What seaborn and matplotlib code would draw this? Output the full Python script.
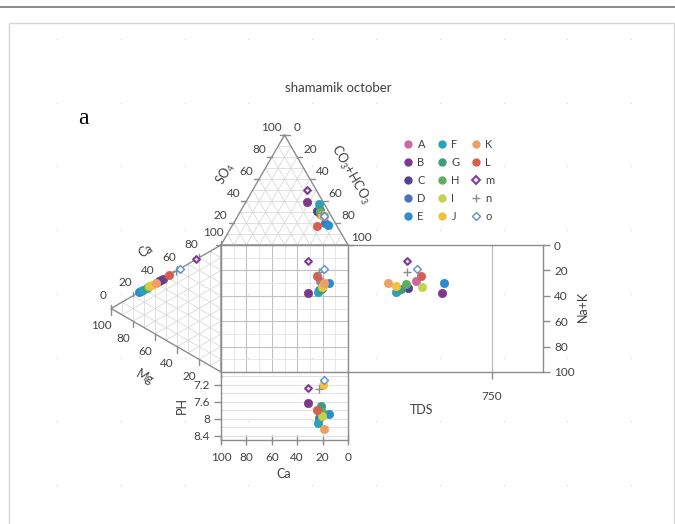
import numpy as np
import pandas as pd
import matplotlib
matplotlib.use("Agg")
import matplotlib.pyplot as plt
from matplotlib.lines import Line2D
from matplotlib.patches import Rectangle
import seaborn as sns

sns.set_theme(style="white")
plt.rcParams["font.family"] = ["Lato", "DejaVu Sans"]
plt.rcParams["mathtext.fontset"] = "custom"
plt.rcParams["mathtext.rm"] = "Lato"
plt.rcParams["mathtext.it"] = "Lato:italic"
plt.rcParams["mathtext.bf"] = "Lato:bold"

# ---------------------------------------------------------------- data
samples = ["A", "B", "C", "D", "E", "F", "G", "H", "I", "J", "K", "L", "m", "n", "o"]

# cation triangle (% meq)
ca_tri = [45, 47, 44, 27.5, 25.7, 29.4, 32.5, 33.5, 34.8, 37, 40.9, 52.7, 77.3, 59, 62.7]
mg_tri = [55, 53, 56, 72.5, 74.3, 70.6, 67.5, 66.5, 65.2, 63, 59.1, 47.3, 22.7, 41, 37.3]
nak_tri = [0, 0, 0, 0, 0, 0, 0, 0, 0, 0, 0, 0, 0, 0, 0]

# anion triangle (% meq)
so4 = [28, 38.8, 31, 20, 18.2, 37, 32, 30, 27.3, 27, 26.4, 17.3, 50, 29, 26]
hco3 = [64, 48.6, 60, 72, 75.4, 58.7, 62, 63, 65.6, 66, 67.9, 66.7, 43, 64, 68]
cl = [8, 12.6, 9, 8, 6.4, 4.3, 6, 7, 7.1, 7, 5.7, 16, 7, 7, 6]

# central square, TDS and pH panels
ca = [22, 31.5, 20.5, 23, 14.7, 23.4, 21.5, 20.5, 20.7, 19.4, 18.9, 24.6, 31.3, 22.6, 18.7]
na_k = [28.1, 38, 34.1, 35.4, 29.7, 37.2, 34.9, 30.9, 32.8, 32.3, 29.7, 24.2, 12.4, 21, 18.9]
tds = [354, 488, 314, 262, 502, 250, 276, 302, 384, 250, 210, 379, 306, 306, 358]
ph = [7.95, 7.63, 7.9, 7.98, 7.88, 8.11, 7.71, 7.83, 7.93, 7.21, 8.23, 7.80, 7.27, 7.29, 7.08]

palette = {
    "A": "#c66aa8", "B": "#7d3a8c", "C": "#55428f", "D": "#4a72b8",
    "E": "#2d8ccc", "F": "#2aa2b8", "G": "#3e9d7f", "H": "#5fad63",
    "I": "#c4d24d", "J": "#f0c23f", "K": "#eea064", "L": "#d6604d",
    "m": "#7b3f90", "n": "#8c8c8c", "o": "#5b8fd3",
}

df = pd.DataFrame({"sample": samples, "ca_tri": ca_tri, "mg_tri": mg_tri,
                   "nak_tri": nak_tri, "so4": so4, "hco3": hco3, "cl": cl,
                   "ca": ca, "na_k": na_k, "tds": tds, "ph": ph})

# ---------------------------------------------------------------- layout (pixels)
W, H = 675, 524
SQ_L, SQ_T, SQ = 221, 245, 127      # central square
RR_W = 195                          # TDS panel width
BR_H = 68                           # pH panel height
S = SQ / 100.0                      # pixels per percent unit
TXT = "#404040"
EDGE = "#8c8c8c"
FS = 8.5

fig = plt.figure(figsize=(W / 100, H / 100), dpi=100)


def fig_rect(x0, y0, w, h):
    return [x0 / W, 1 - (y0 + h) / H, w / W, h / H]


# background layer in pixel coordinates
bg = fig.add_axes([0, 0, 1, 1], zorder=0)
bg.set_xlim(0, W)
bg.set_ylim(H, 0)
bg.axis("off")
bg.plot([0, W], [7, 7], color="#8a8a8a", lw=1.4)
bg.add_patch(Rectangle((8.5, 22.5), 665, 520, fill=False, ec="#d4d4d4", lw=1))
gx, gy = np.meshgrid(57 + 63.8 * np.arange(10), 39 + 63.7 * np.arange(8))
bg.scatter(gx.ravel(), gy.ravel(), marker="+", s=3, color="#e2e2e2", linewidths=0.5)
bg.text(338, 88, "shamamik october", ha="center", va="center", fontsize=9.5, color=TXT)
bg.text(83, 118, "a", ha="center", va="center", fontsize=17, color="black",
        family=["Liberation Serif", "DejaVu Serif"])

# axis titles
bg.text(182, 405, "PH", rotation=90, ha="center", va="center", fontsize=9, color=TXT)
bg.text(284, 474, "Ca", ha="center", va="center", fontsize=9, color=TXT)
bg.text(422, 410, "TDS", ha="center", va="center", fontsize=9, color=TXT)
bg.text(583, 306, "Na+K", rotation=90, ha="center", va="center", fontsize=9, color=TXT)
bg.text(226, 174, "SO$_4$", rotation=60, ha="center", va="center", fontsize=9, color=TXT)
bg.text(350, 174, "CO$_3$+HCO$_3$", rotation=-60, ha="center", va="center", fontsize=9, color=TXT)
bg.text(146, 251, "Ca", rotation=30, ha="center", va="center", fontsize=9, color=TXT)
bg.text(145, 377, "Mg", rotation=-30, ha="center", va="center", fontsize=9, color=TXT)


def marker_style(name):
    if name == "m":
        return dict(marker="D", s=12, color="#e9dcef", edgecolor=palette[name], linewidth=1.5)
    if name == "n":
        return dict(marker="+", s=34, color=palette[name], linewidth=1.0)
    if name == "o":
        return dict(marker="D", s=16, color="white", edgecolor=palette[name], linewidth=1.0)
    return dict(marker="o", s=36, color=palette[name], edgecolor=palette[name], linewidth=0.5)


def draw_samples(ax, xcol, ycol):
    for _, row in df.iterrows():
        sns.scatterplot(x=[row[xcol]], y=[row[ycol]], ax=ax, legend=False,
                        zorder=5, **marker_style(row["sample"]))


def style_spines(ax, hide=()):
    for k, sp in ax.spines.items():
        sp.set_color(EDGE)
        sp.set_linewidth(1.0)
        sp.set_visible(k not in hide)


# ---------------------------------------------------------------- central square
sq = fig.add_axes(fig_rect(SQ_L, SQ_T, SQ, SQ), zorder=1)
sq.set_facecolor("none")
sq.set_xlim(100, 0)
sq.set_ylim(100, 0)
for axis in (sq.xaxis, sq.yaxis):
    axis.set_ticks(np.arange(0, 101, 20))
    axis.set_ticks(np.arange(0, 101, 10), minor=True)
sq.grid(which="minor", color="#e3e3e3", lw=0.6)
sq.grid(which="major", color="#c0c0c0", lw=0.8)
sq.tick_params(which="both", length=0, labelbottom=False, labelleft=False)
style_spines(sq)
draw_samples(sq, "ca", "na_k")
sq.set_xlabel("")
sq.set_ylabel("")

# ---------------------------------------------------------------- TDS panel
rr = fig.add_axes(fig_rect(SQ_L + SQ, SQ_T, RR_W, SQ), zorder=1)
rr.set_facecolor("none")
rr.set_xlim(0, 1015)
rr.set_ylim(100, 0)
rr.set_xticks([750])
rr.set_xticklabels(["750"])
rr.yaxis.tick_right()
rr.set_yticks(np.arange(0, 101, 20))
rr.grid(axis="x", color="#bdbdbd", lw=0.9)
rr.grid(axis="y", visible=False)
rr.tick_params(axis="y", right=True, left=False, direction="out", length=5, width=1,
               color=EDGE, labelsize=FS, labelcolor=TXT, pad=3)
rr.tick_params(axis="x", bottom=True, direction="out", length=5, width=1,
               color=EDGE, labelsize=FS, labelcolor=TXT, pad=9)
style_spines(rr, hide=("left",))
draw_samples(rr, "tds", "na_k")
rr.set_xlabel("")
rr.set_ylabel("")

# ---------------------------------------------------------------- pH panel
br = fig.add_axes(fig_rect(SQ_L, SQ_T + SQ, SQ, BR_H), zorder=1)
br.set_facecolor("none")
br.set_xlim(100, 0)
br.set_ylim(8.5, 6.9)
br.set_yticks([7.2, 7.6, 8.0, 8.4])
br.set_yticklabels(["7.2", "7.6", "8", "8.4"])
br.set_yticks(np.arange(7.0, 8.45, 0.2), minor=True)
br.set_xticks(np.arange(0, 101, 20))
br.set_xticklabels([str(v) for v in range(0, 101, 20)])
br.grid(axis="y", which="both", color="#e0e0e0", lw=0.7)
br.grid(axis="x", visible=False)
br.tick_params(axis="x", bottom=True, direction="inout", length=7, width=1,
               color=EDGE, labelsize=FS, labelcolor=TXT, pad=5)
br.tick_params(axis="y", which="major", left=True, direction="out", length=5, width=1,
               color=EDGE, labelsize=FS, labelcolor=TXT, pad=3)
br.tick_params(axis="y", which="minor", length=0)
style_spines(br, hide=("top",))
draw_samples(br, "ca", "ph")
br.set_xlabel("")
br.set_ylabel("")

# ---------------------------------------------------------------- triangles
dax = fig.add_axes([0, 0, 1, 1], zorder=2)
dax.set_facecolor("none")

r3 = np.sqrt(3.0)
T_SO4, T_HCO3, T_CL = np.array([50, 100 + 50 * r3]), np.array([100, 100]), np.array([0, 100])
L_CA, L_MG, L_NA = np.array([0, 100]), np.array([-50 * r3, 50]), np.array([0, 0])


def tern(a, b, c, va, vb, vc):
    a, b, c = (np.atleast_1d(np.asarray(v, float)) for v in (a, b, c))
    return (np.outer(a, va) + np.outer(b, vb) + np.outer(c, vc)) / 100.0


def tri_grid(va, vb, vc):
    for k in range(10, 100, 10):
        f = k / 100.0
        for p, q, r in ((va, vb, vc), (vb, vc, va), (vc, va, vb)):
            s0 = p * f + q * (1 - f)
            s1 = p * f + r * (1 - f)
            dax.plot([s0[0], s1[0]], [s0[1], s1[1]], color="#dadada", lw=0.6, zorder=1)
    pts = np.array([va, vb, vc, va])
    dax.plot(pts[:, 0], pts[:, 1], color=EDGE, lw=1.0, zorder=2)


tri_grid(T_SO4, T_HCO3, T_CL)
tri_grid(L_CA, L_MG, L_NA)

vals = np.arange(0, 101, 20)


def edge_ticks(points, labels, tick_vec, off_vec, off_px):
    tv = np.asarray(tick_vec) / S
    ov = np.asarray(off_vec) * off_px / S
    for (x, y), lab in zip(points, labels):
        dax.plot([x, x + tv[0]], [y, y + tv[1]], color=EDGE, lw=1.0, zorder=2)
        if lab is not None:
            dax.text(x + ov[0], y + ov[1], lab, ha="center", va="center",
                     fontsize=FS, color=TXT)


# SO4 along left edge of the anion triangle (100 at apex)
edge_ticks(tern(vals, 0 * vals, 100 - vals, T_SO4, T_HCO3, T_CL),
           [None if v == 0 else str(v) for v in vals], (-5, 0), (-0.866, 0.5), 15)
# CO3+HCO3 along right edge (0 at apex)
edge_ticks(tern(100 - vals, vals, 0 * vals, T_SO4, T_HCO3, T_CL),
           [str(v) for v in vals], (5, 0), (0.866, 0.5), 15)
# Ca along upper edge of the cation triangle
edge_ticks(tern(vals, 100 - vals, 0 * vals, L_CA, L_MG, L_NA),
           [str(v) for v in vals], (0, 4), (-0.5, 0.866), 15)
# Mg along lower edge of the cation triangle
edge_ticks(tern(0 * vals, vals, 100 - vals, L_CA, L_MG, L_NA),
           [None if v == 0 else str(v) for v in vals], (0, -6), (-0.5, -0.866), 20)

top_xy = tern(df["so4"], df["hco3"], df["cl"], T_SO4, T_HCO3, T_CL)
left_xy = tern(df["ca_tri"], df["mg_tri"], df["nak_tri"], L_CA, L_MG, L_NA)
df["top_x"], df["top_y"] = top_xy[:, 0], top_xy[:, 1]
df["left_x"], df["left_y"] = left_xy[:, 0], left_xy[:, 1]
draw_samples(dax, "top_x", "top_y")
draw_samples(dax, "left_x", "left_y")
dax.set_xlim(-SQ_L / S, (W - SQ_L) / S)
dax.set_ylim(-(H - SQ_T - SQ) / S, (SQ_T + SQ) / S)
dax.axis("off")

# ---------------------------------------------------------------- legend
handles = []
for name in samples:
    if name == "m":
        h = Line2D([], [], ls="", marker="D", ms=3.6, mfc="#e9dcef", mec=palette[name], mew=1.4)
    elif name == "n":
        h = Line2D([], [], ls="", marker="+", ms=6, color=palette[name], mew=1.0)
    elif name == "o":
        h = Line2D([], [], ls="", marker="D", ms=4.2, mfc="white", mec=palette[name], mew=1.0)
    else:
        h = Line2D([], [], ls="", marker="o", ms=5, mfc=palette[name], mec=palette[name])
    handles.append(h)
leg = bg.legend(handles, samples, ncol=3, loc="upper left",
                bbox_to_anchor=(402.5, 139), bbox_transform=bg.transData,
                frameon=False, fontsize=8, borderpad=0, borderaxespad=0,
                handlelength=1.0, handletextpad=0.35, columnspacing=0.95,
                labelspacing=0.62, labelcolor=TXT)

fig.savefig("out.png", dpi=100)
